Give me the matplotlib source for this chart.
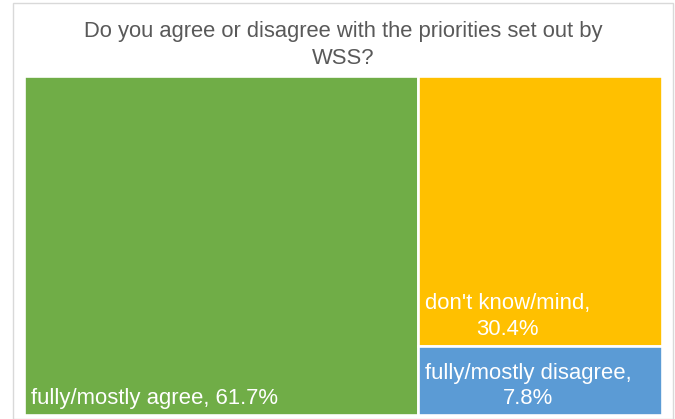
import matplotlib
matplotlib.use("Agg")
import matplotlib.pyplot as plt
from matplotlib.patches import Rectangle

plt.rcParams['font.family'] = ['Liberation Sans', 'DejaVu Sans']

title_lines = ["Do you agree or disagree with the priorities set out by", "WSS?"]
categories = ["fully/mostly agree", "don't know/mind", "fully/mostly disagree"]
shares = [61.7, 30.4, 7.8]
labels = ["fully/mostly agree, 61.7%", "don't know/mind,\n30.4%", "fully/mostly disagree,\n7.8%"]
colors = ["#70AD47", "#FFC000", "#5B9BD5"]

W, H = 675, 419
fig = plt.figure(figsize=(W / 100, H / 100), dpi=100)

# chart frame
fig.patches.append(Rectangle((13 / W, 0), 660 / W, 416 / H, transform=fig.transFigure,
                             fill=False, edgecolor="#D9D9D9", linewidth=1.0))

for line, base in zip(title_lines, [37, 64]):
    fig.text(343.3 / W, 1 - base / H, line, ha="center", va="baseline", fontsize=15.8,
             color="#595959")

# treemap area (pixels from top-left), padded for the white outlines
x0, y0, x1, y1 = 23.7, 75.7, 662.3, 415.3
ax = fig.add_axes([x0 / W, 1 - y1 / H, (x1 - x0) / W, (y1 - y0) / H])
ax.set_xlim(0, 1)
ax.set_ylim(0, 1)
ax.axis("off")

total = sum(shares)
# first item takes a full-height column, the rest stack in the remaining column
rects = []
w0 = shares[0] / total
rects.append((0, 0, w0, 1))
rest = sum(shares[1:])
ytop = 1.0
for v in shares[1:]:
    h = v / rest
    rects.append((w0, ytop - h, 1 - w0, h))
    ytop -= h

pad_x = 7 / (x1 - x0)
pad_y = 11 / (y1 - y0)
for (rx, ry, rw, rh), c, lab in zip(rects, colors, labels):
    ax.add_patch(Rectangle((rx, ry), rw, rh, facecolor=c, edgecolor="white", linewidth=1.9))
    ax.text(rx + pad_x, ry + pad_y, lab, ha="left", va="baseline", multialignment="center",
            fontsize=15.9, color="white", linespacing=1.3)

fig.savefig("out.png", dpi=100)
